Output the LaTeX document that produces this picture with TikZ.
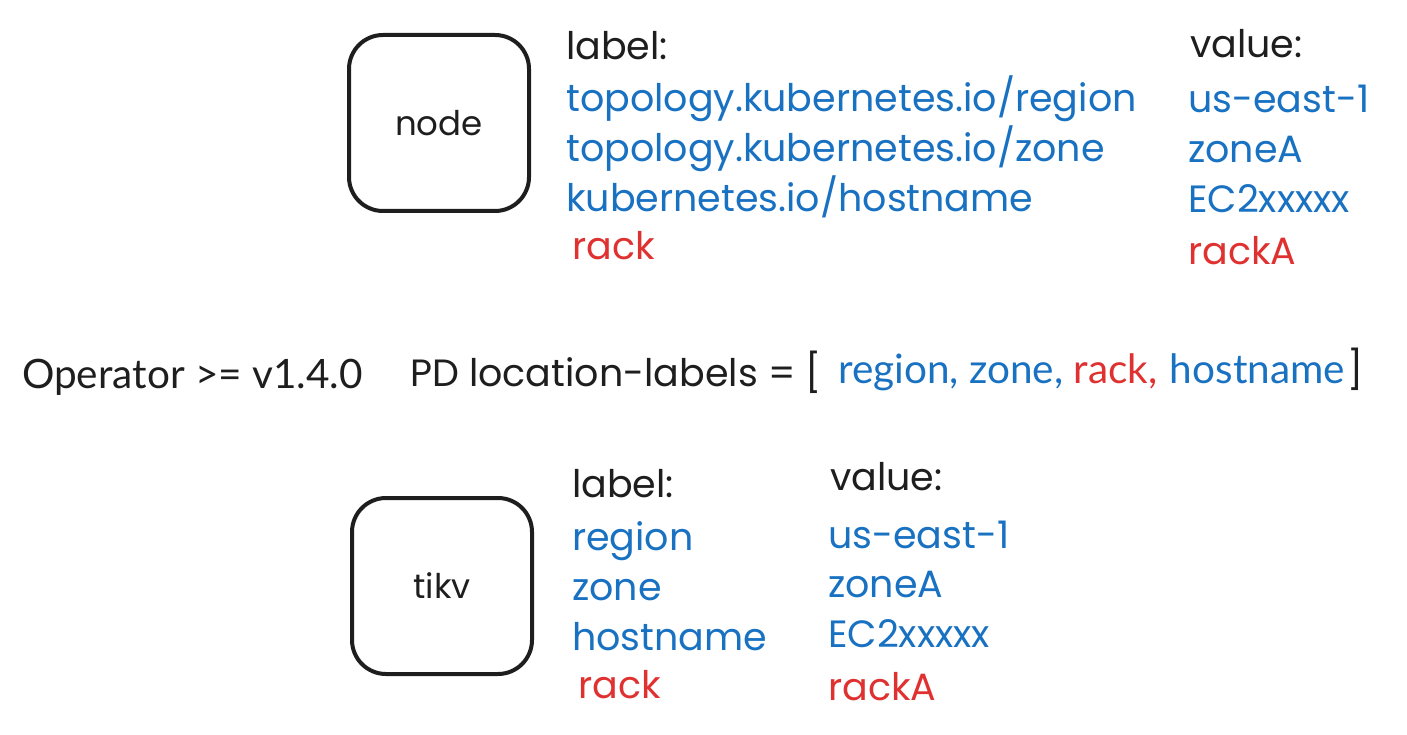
\documentclass[tikz,border=0pt]{standalone}
\usepackage{fontspec}
\setmainfont{Poppins}
\newfontfamily\hand{Poppins}
\newfontfamily\plain{Lato}
\definecolor{ink}{HTML}{1E1E1E}
\definecolor{kblue}{HTML}{1971C2}
\definecolor{kred}{HTML}{E03131}
\begin{document}
\begin{tikzpicture}[x=1pt,y=-1pt,
  txt/.style={inner sep=0pt, anchor=base west, text=ink, font=\hand\fontsize{38}{44}\selectfont},
  bl/.style={txt, text=kblue},
  rd/.style={txt, text=kred},
  sans/.style={inner sep=0pt, anchor=base west, font=\plain\fontsize{40.5}{48}\selectfont},
  box/.style={draw=ink, line width=4pt, rounded corners=34pt, minimum width=180pt, minimum height=176pt,
              inner sep=0pt, text=ink, font=\hand\fontsize{34}{40}\selectfont}]
\useasboundingbox (0,0) rectangle (1407,735);

% upper entity and its labels
\node[box] (nodebox) at (439,123) {node};
\node[txt] (lblA) at (566,60) {label:};
\node[bl] (la1) at (566,112) {topology.kubernetes.io/region};
\node[bl] (la2) at (566,162) {topology.kubernetes.io/zone};
\node[bl] (la3) at (566,212) {kubernetes.io/hostname};
\node[rd] (la4) at (572,260) {rack};
\node[txt] (valA) at (1190,58) {value:};
\node[bl] (va1) at (1188,113) {us-east-1};
\node[bl] (va2) at (1188,163) {zoneA};
\node[bl] (va3) at (1188,213) {EC2xxxxx};
\node[rd] (va4) at (1188,265) {rackA};

% middle line
\node[sans, text=ink] (op) at (22,388) {Operator >= v1.4.0};
\node[txt] (pd) at (410,386) {PD location-labels = [};
\node[sans, text=kblue] (m1) at (838,383) {region, zone,};
\node[sans, text=kred] (m2) at (m1.base east) [xshift=10pt] {rack,};
\node[sans, text=kblue] (m3) at (m2.base east) [xshift=12pt] {hostname};
\node[txt] (rb) at (m3.base east) [xshift=2pt] {]};

% lower entity and its labels
\node[box] (tikvbox) at (442,586) {tikv};
\node[txt] (lblB) at (572,497) {label:};
\node[bl] (lb1) at (572,550) {region};
\node[bl] (lb2) at (572,600) {zone};
\node[bl] (lb3) at (572,650) {hostname};
\node[rd] (lb4) at (578,698) {rack};
\node[txt] (valB) at (830,490) {value:};
\node[bl] (vb1) at (828,548) {us-east-1};
\node[bl] (vb2) at (828,597) {zoneA};
\node[bl] (vb3) at (828,647) {EC2xxxxx};
\node[rd] (vb4) at (828,700) {rackA};
\end{tikzpicture}
\end{document}
